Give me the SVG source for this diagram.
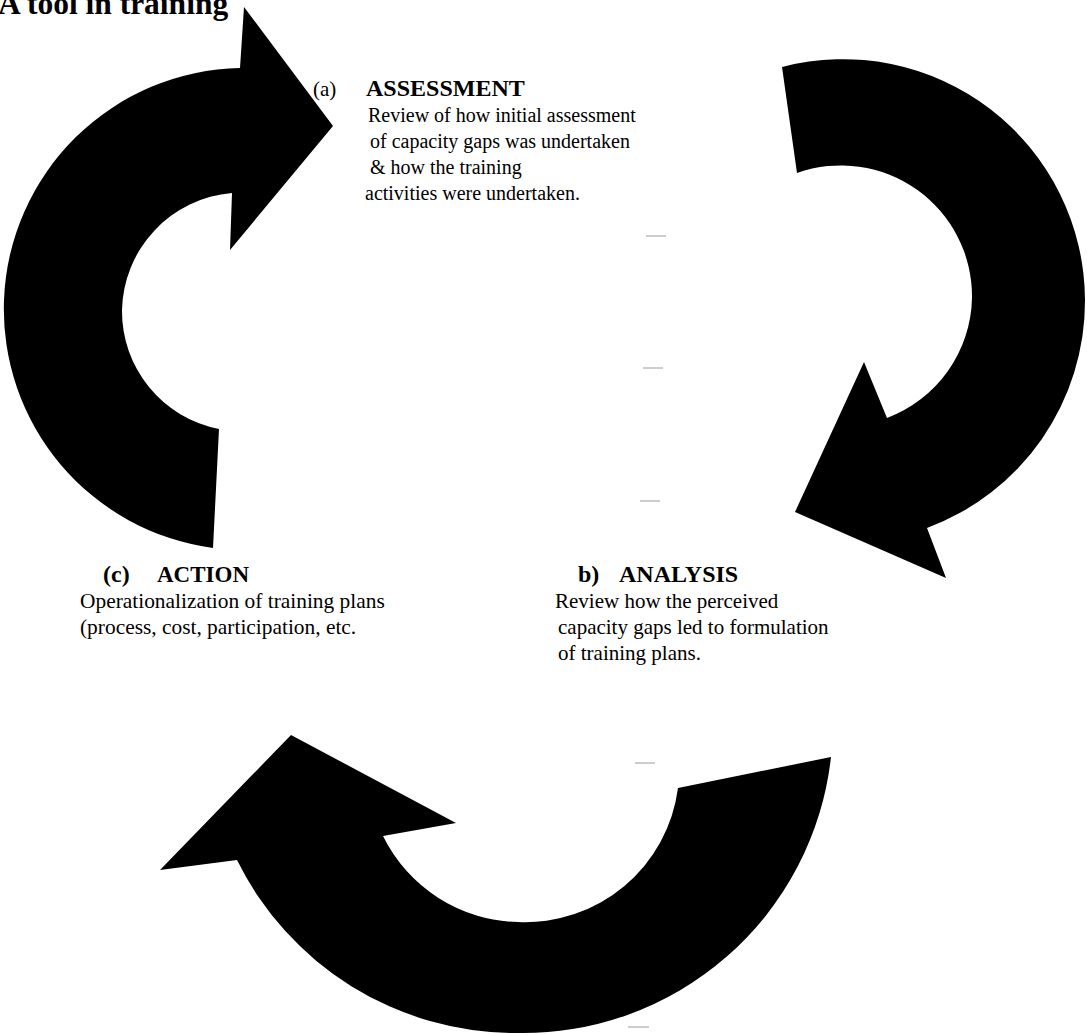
<svg xmlns="http://www.w3.org/2000/svg" width="1087" height="1035" viewBox="0 0 1087 1035">
  <style>
    .bg { fill: #ffffff; }
    .arrow { fill: #000000; stroke: none; }
    .t { font-family: "Liberation Serif", "Times New Roman", serif; font-size: 21px; fill: #000000; }
    .s { font-size: 20px; }
    .h { font-size: 24px; font-weight: bold; }
    .ttl { font-family: "Liberation Serif", "Times New Roman", serif; font-size: 31.5px; font-weight: bold; fill: #000000; }
    .dash { stroke: #9a9a9a; stroke-width: 1; }
  </style>
  <rect class="bg" x="0" y="0" width="1087" height="1035"/>

  <g id="title">
    <text class="ttl" x="-2" y="14">A tool in training</text>
  </g>

  <g id="connectors">
    <path id="arrow-action-to-assessment" class="arrow"
      d="M 213,548 A 241 241 0 0 1 4,300 A 241 241 0 0 1 240,68 L 244,7 L 333,126 L 230,250 L 232,193 A 120 120 0 0 0 122,310 A 120 120 0 0 0 219,429 Z"/>
    <path id="arrow-assessment-to-analysis" class="arrow"
      d="M 782,67 A 242 242 0 0 1 1085,300 A 242 242 0 0 1 927,528 L 946,578 L 795,512 L 864,362 L 887,418 A 131 131 0 0 0 972,298 A 131 131 0 0 0 797,173 Z"/>
    <path id="arrow-analysis-to-action" class="arrow"
      d="M 831,757 A 310 310 0 0 1 515,1033 A 310 310 0 0 1 237,860 L 160,870 L 291,735 L 456,823 L 383,836 A 154 154 0 0 0 518,922 A 154 154 0 0 0 678,788 Z"/>
  </g>

  <g id="marks">
    <line class="dash" x1="646" y1="236" x2="666" y2="236"/>
    <line class="dash" x1="643" y1="368" x2="663" y2="368"/>
    <line class="dash" x1="640" y1="501" x2="660" y2="501"/>
    <line class="dash" x1="635" y1="763" x2="655" y2="763"/>
    <line class="dash" x1="628" y1="1027" x2="649" y2="1027"/>
  </g>

  <g id="node-assessment">
    <text class="t" x="313" y="96">(a)</text>
    <text class="t h" x="366" y="96">ASSESSMENT</text>
    <text class="t s" x="368" y="122">Review of how initial assessment</text>
    <text class="t s" x="370" y="148">of capacity gaps was undertaken</text>
    <text class="t s" x="370" y="174">&amp; how the training</text>
    <text class="t s" x="365" y="200">activities were undertaken.</text>
  </g>

  <g id="node-analysis">
    <text class="t h" x="578" y="582">b)</text>
    <text class="t h" x="619" y="582">ANALYSIS</text>
    <text class="t" x="555" y="608">Review how the perceived</text>
    <text class="t" x="558" y="634">capacity gaps led to formulation</text>
    <text class="t" x="558" y="660">of training plans.</text>
  </g>

  <g id="node-action">
    <text class="t h" x="103" y="582">(c)</text>
    <text class="t h" x="157" y="582" style="font-size:23px">ACTION</text>
    <text class="t" x="80" y="608" style="font-size:21.4px">Operationalization of training plans</text>
    <text class="t" x="80" y="634" style="font-size:21.4px">(process, cost, participation, etc.</text>
  </g>
</svg>
